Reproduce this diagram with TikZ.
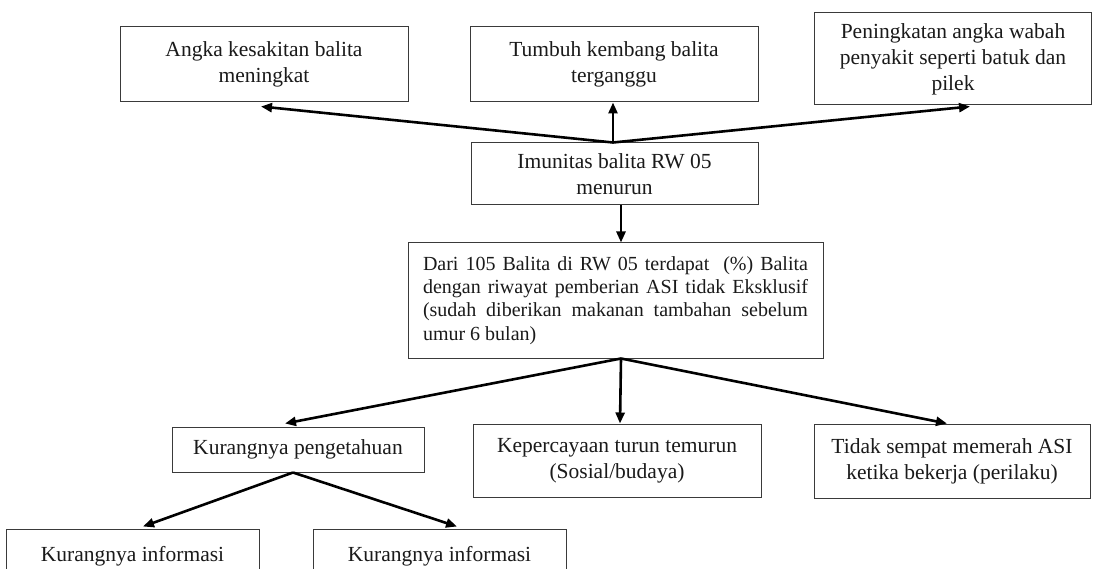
\documentclass[tikz,border=0pt]{standalone}
\usepackage{fontspec}
\setmainfont{Liberation Serif}
\usetikzlibrary{arrows.meta}
\definecolor{boxline}{HTML}{3A3A3A}
\definecolor{txt}{HTML}{1A1A1A}
\begin{document}
\begin{tikzpicture}[x=1pt,y=-1pt,
  box/.style={draw=boxline,line width=1pt,rectangle,inner sep=0pt,align=center,
    text=txt,font=\fontsize{21.5}{26}\selectfont},
  arr/.style={draw=black,line width=2.6pt,-{Triangle[length=11pt,width=9pt]}}]
\useasboundingbox (0,0) rectangle (1094,569);
\clip (0,0) rectangle (1094,569);
\fill[white] (0,0) rectangle (1094,569);
% top row
\node[box,minimum width=288pt,minimum height=75pt] (b1) at (264,64.5) {Angka kesakitan balita\\meningkat};
\node[box,minimum width=288pt,minimum height=75pt] (b2) at (614,64.5) {Tumbuh kembang balita\\terganggu};
\node[box,minimum width=277pt,minimum height=92pt] (b3) at (953,59) {Peningkatan angka wabah\\penyakit seperti batuk dan\\pilek};
% middle
\node[box,minimum width=287pt,minimum height=62pt] (imun) at (614.5,174) {Imunitas balita RW 05\\menurun};
\node[box,minimum width=415pt,minimum height=115pt,align=left,font=\fontsize{20}{23.3}\selectfont] (dari) at (615.5,300.5)
  {\makebox[385pt][s]{Dari 105 Balita di RW 05 terdapat \ (\%) Balita}\\
   \makebox[385pt][s]{dengan riwayat pemberian ASI tidak Eksklusif}\\
   \makebox[385pt][s]{(sudah diberikan makanan tambahan sebelum}\\
   umur 6 bulan)};
% causes
\node[box,minimum width=252pt,minimum height=45pt] (kp) at (298,449.5) {Kurangnya pengetahuan};
\node[box,minimum width=288pt,minimum height=73pt] (kep) at (617,460.5) {Kepercayaan turun temurun\\(Sosial/budaya)};
\node[box,minimum width=276pt,minimum height=74pt] (tidak) at (952,461) {Tidak sempat memerah ASI\\ketika bekerja (perilaku)};
% bottom
\node[box,minimum width=253pt,minimum height=54pt] (ki1) at (132.5,556) {Kurangnya informasi};
\node[box,minimum width=253pt,minimum height=54pt] (ki2) at (439.5,556) {Kurangnya informasi};
% connectors
\draw[arr] ([xshift=-1.5pt]imun.north) -- ([xshift=-3pt,yshift=-4pt]b1.south);
\draw[arr] ([xshift=-1.5pt]imun.north) -- ([xshift=-1pt]b2.south);
\draw[arr] ([xshift=-1.5pt]imun.north) -- ([xshift=17pt,yshift=-1pt]b3.south);
\draw[arr] ([xshift=6.5pt]imun.south) -- ([xshift=5.5pt]dari.north);
\draw[arr] ([xshift=5.5pt]dari.south) -- ([xshift=-13pt,yshift=3pt]kp.north);
\draw[arr] ([xshift=5.5pt]dari.south) -- ([xshift=3pt]kep.north);
\draw[arr] ([xshift=5.5pt]dari.south) -- ([xshift=-5pt]tidak.north);
\draw[arr] ([xshift=-5pt]kp.south) -- ([xshift=10.5pt,yshift=2pt]ki1.north);
\draw[arr] ([xshift=-5pt]kp.south) -- ([xshift=17.5pt,yshift=2pt]ki2.north);
\end{tikzpicture}
\end{document}
